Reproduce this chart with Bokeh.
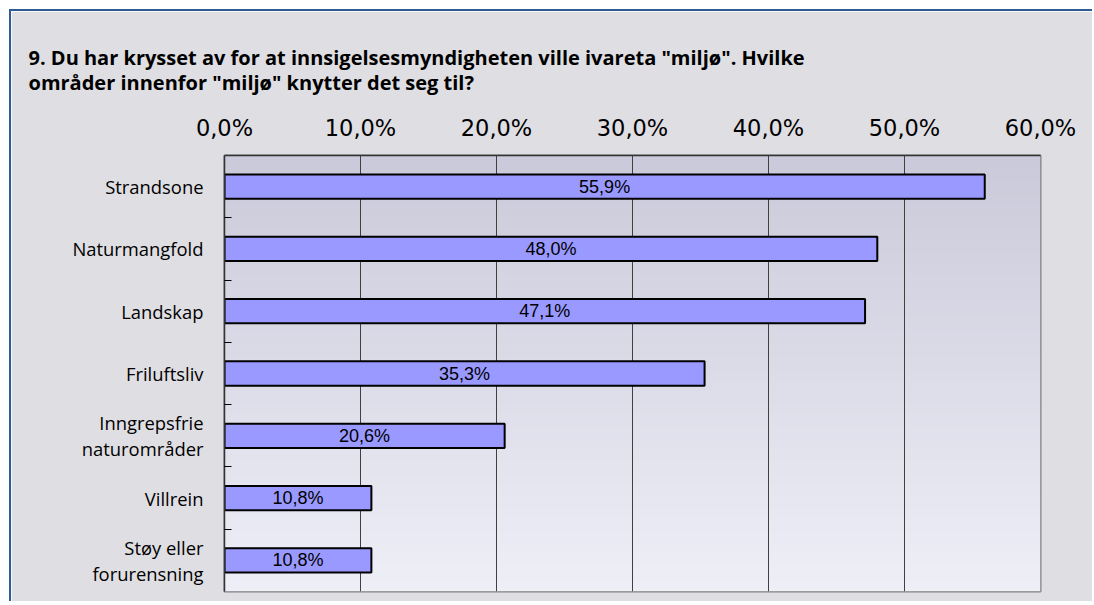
import numpy as np
from bokeh.plotting import figure
from bokeh.models import FixedTicker, ColumnDataSource, Title
from bokeh.core.properties import value
from bokeh.embed import file_html
from bokeh.resources import INLINE

# ---- data ----
categories = ["Strandsone", "Naturmangfold", "Landskap", "Friluftsliv",
              "Inngrepsfrie\nnaturområder", "Villrein", "Støy eller\nforurensning"]
values = [55.9, 48.0, 47.1, 35.3, 20.6, 10.8, 10.8]
tick_values = [0, 10, 20, 30, 40, 50, 60]
tick_labels = ["0,0%", "10,0%", "20,0%", "30,0%", "40,0%", "50,0%", "60,0%"]
title_lines = ['9. Du har krysset av for at innsigelsesmyndigheten ville ivareta "miljø". Hvilke',
               'områder innenfor "miljø" knytter det seg til?']

n = len(categories)
ypos = [n - i - 0.5 for i in range(n)]
bar_text = [f"{v:.1f}".replace(".", ",") + "%" for v in values]

src = ColumnDataSource(dict(y=ypos, v=values, half=[v / 2 for v in values], t=bar_text))

BG = "#DFDEE3"
p = figure(width=1083, height=592, x_range=(0, 60), y_range=(0, n),
           x_axis_location="above", output_backend="svg", toolbar_location=None,
           min_border_left=213, min_border_right=54, min_border_top=144, min_border_bottom=12)
p.styles = {"border-top": "2px solid #2E5B93", "border-left": "2px solid #2E5B93",
            "margin-left": "9px", "margin-top": "9px"}
p.background_fill_color = "#DCDCE8"
p.border_fill_color = BG
p.outline_line_color = "#808080"
p.outline_line_width = 2

# gradient plot background
N = 100
top = np.array([202, 202, 218], dtype=float)
bot = np.array([239, 239, 248], dtype=float)
img = np.zeros((N, 1), dtype=np.uint32)
view = img.view(dtype=np.uint8).reshape((N, 1, 4))
for r in range(N):
    f = r / (N - 1)
    c = bot + (top - bot) * f
    view[r, 0, 0] = int(c[0]); view[r, 0, 1] = int(c[1]); view[r, 0, 2] = int(c[2]); view[r, 0, 3] = 255
p.image_rgba(image=[img], x=0, y=0, dw=60, dh=n, level="image")

# bars
p.hbar(y="y", right="v", left=0, height=0.39, source=src,
       fill_color="#9999FF", line_color="#000000", line_width=2)
p.text(x="half", y="y", text="t", source=src, text_align="center", text_baseline="middle",
       text_font=value("Liberation Sans"), text_font_size="18px", text_color="#000000")

# x axis (top)
xa = p.xaxis[0]
xa.ticker = FixedTicker(ticks=tick_values)
xa.major_label_overrides = {t: l for t, l in zip(tick_values, tick_labels)}
xa.major_label_text_font = "DejaVu Sans"
xa.major_label_text_font_size = "22.5px"
xa.major_label_text_color = "#000000"
xa.major_tick_out = 0
xa.major_tick_in = 0
xa.minor_tick_line_color = None
xa.axis_line_color = "#333333"
xa.axis_line_width = 1.5
xa.major_label_standoff = 15

# y axis (left)
ya = p.yaxis[0]
ya.ticker = FixedTicker(ticks=ypos, minor_ticks=[float(k) for k in range(1, n)])
ya.major_label_overrides = {y: c for y, c in zip(ypos, categories)}
ya.major_label_text_font = "Open Sans"
ya.major_label_text_font_size = "18.4px"
ya.major_label_text_color = "#000000"
ya.major_label_text_line_height = 1.04
ya.major_tick_line_color = None
ya.minor_tick_in = 7
ya.minor_tick_out = 0
ya.minor_tick_line_color = "#000000"
ya.minor_tick_line_width = 1
ya.axis_line_color = "#333333"
ya.axis_line_width = 1.5
ya.major_label_standoff = 15

p.xgrid.ticker = FixedTicker(ticks=tick_values)
p.xgrid.grid_line_color = "#404040"
p.xgrid.grid_line_width = 1
p.ygrid.grid_line_color = None

t = Title(text="\n".join(title_lines), align="left", offset=-196,
          text_font="Open Sans", text_font_size="20px", text_font_style="bold",
          text_color="#000000", text_line_height=0.95, standoff=30)
p.add_layout(t, "above")

open("out.html", "w").write(file_html(p, INLINE))
